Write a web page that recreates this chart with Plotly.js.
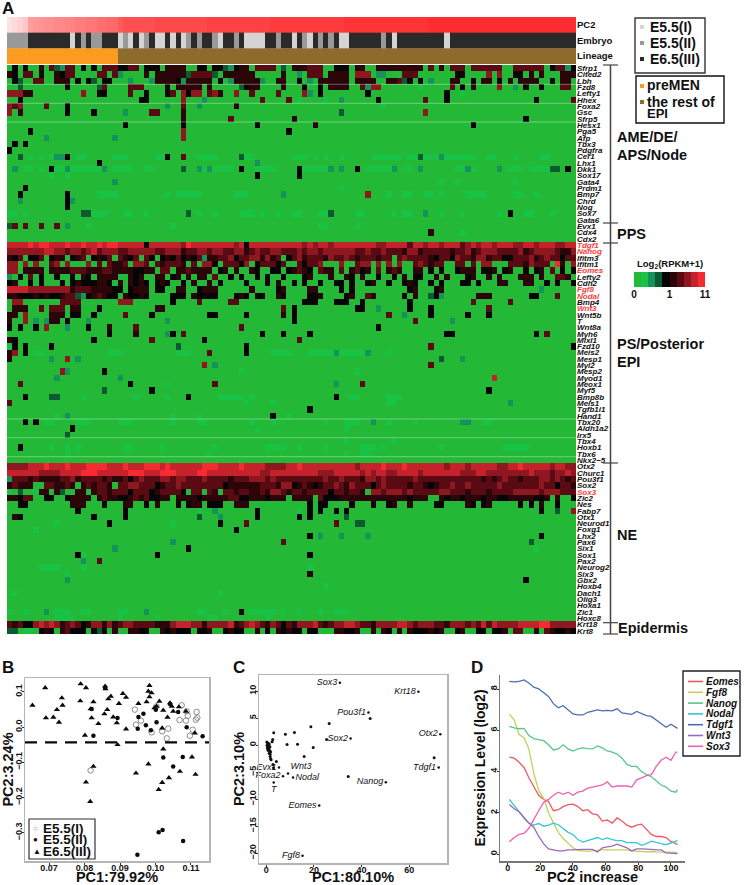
<!DOCTYPE html>
<html><head><meta charset="utf-8">
<script src="https://cdn.plot.ly/plotly-3.0.1.min.js"></script>
<style>html,body{margin:0;padding:0;background:#fff}#c{width:745px;height:885px}</style>
</head><body><div id="c"></div>
<script>
// ---------- Panel A data ----------
const geneNames = ["Sfrp1","Cited2","Lbh","Fzd8","Lefty1","Hhex","Foxa2","Gsc","Sfrp5","Hesx1","Pga5","Afp","Tbx3","Pdgfra","Cer1","Lhx1","Dkk1","Sox17","Gata4","Prdm1","Bmp7","Chrd","Nog","Sox7","Gata6","Evx1","Cdx4","Cdx2",
"Tdgf1","Nanog","Ifitm3","Ifitm1","Eomes","Lefty2","Cdh2","Fgf8","Nodal","Bmp4","Wnt3","Wnt5b","T","Wnt8a","Myh6","Mixl1","Fzd10","Meis2","Mesp1","Myl2","Mesp2","Myod1","Meox1","Myf5","Bmp8b","Meis1","Tgfb1i1","Hand1","Tbx20","Aldh1a2","Irx5","Tbx4","Hoxb1","Tbx6","Nkx2−5",
"Otx2","Churc1","Pou3f1","Sox2","Sox3","Zic2","Nes","Fabp7","Otx1","Neurod1","Foxg1","Lhx2","Pax6","Six1","Sox1","Pax2","Neurog2","Six3","Gbx2","Hoxb4","Dach1","Olig3","Hoxa1","Zic1","Hoxc8","Krt18","Krt8"];
const redGenes = ["Tdgf1","Nanog","Eomes","Fgf8","Nodal","Wnt3","Sox3"];
const columnCount = 108;
// expression level per cell: 0 background green ... 4 black ... 9 bright red
// a row is either 108 digits, or "col:level" / "from-to:level" tokens over the background
const heatRows = [
"1:4 3:4 6:5 8:6 9:3 10:2 11:6 12:6 14:4 16:4 18-20:6 21-22:4 23-24:6 26-28:4 30-33:5 36-37:4 39-40:4 41:3 42:2 43:4 44-45:5 47-50:6 52:3 54-56:5 57-59:6 62-64:4 66-67:5 70-72:5 73-78:5 80:6 82:5 84-86:6 88-90:6 91-93:6 96-101:6 103:4 104-105:6 106:2 107:4",
"0:5 1:4 3-4:6 6:4 9:5 10:4 11-12:6 17-18:6 20:6 21:2 26:5 28-33:5 34:3 35-38:6 39:3 41-42:5 43-46:5 52:5 55:2 57-59:6 61-64:5 66-68:7 70:2 71:2 75-77:6 85-86:4 91:7 93:7 96-97:4 99:5 101:5 105-107:5",
"1:4 2:3 5-6:6 9-11:5 13:4 15:4 16:3 18-19:4 23:2 27:2 28-31:5 32:4 33:2 34-38:5 40:4 42:2 43-47:5 48:2 51-52:5 55:4 57:2 59-64:5 66-69:5 72-73:5 74:6 75:3 76:4 78:4 80:2 84-85:5 88:4 90-91:5 93:4 95:5 97-100:5 103:4 105-106:5",
"2:3 11:4 17:3 18:6 23-25:6 30:4 32-36:5 38:5 44:3 45:4 46:5 47:5 52:5 56:4 59:4 61-64:5 67:6 68:2 69-70:7 78:1 84:6 86:4 88:5 93:7 96:2 98:4 101:4 105-106:6",
"0-2:7 3-4:5 14:7 17-18:4 23:6 26:4 30:4 31:6 33:7 34:4 35-36:7 38:6 39:7 40:5 43:7 46:6 51:6 56:7 57:2 59:4 68:4 83:4 86:1",
"2:4 25-26:4 33:7 37:2 48:6 53:6 55:1 60:1 63:2 70:4 79:6 83:4 100:4 107:6",
"0:7 1:6 2:7 7:6 11:4 30:2 33:6 36:2 43:5 71:1",
"0:7 2:5 11:4 16:4 22:2 27-28:6 33:5 63:3 79:7",
"33:5 42:6 54:5 98:4",
"22:4 33:4 47:4 58:5 88:4",
"4:4 33:7 53:4",
"7:2 20:2 33:7",
"1:4 3:4",
"0:4",
"2:3 4:1 6:1 8:1 9:2 10:2 11:4 13-14:1 20-22:1 28-29:1 30:4 33:6 36-39:1 44:3 45-46:1 54-56:1 58:1 60:1 63:1 69-74:1 76-77:1 78:3 79-81:1 82:2 83-88:1 91-92:1 96:1 101-102:1",
"17:4 47:2",
"1:2 3-4:1 6:1 8:4 9-10:1 11:2 12-17:1 18:2 20-22:1 23:1 26:1 27:1 33:3 36:2 37:1 38:2 39-42:1 44:4 47-50:1 55:4 56-60:1 61:2 63:2 66:4 68-72:1 73:2 75:1 76:1 78:2 85:1 86:1 87:2 88:1 93:2 95-97:1 99-102:1 103-104:3 106:4",
"8:1 11:1 47:4 55:4",
"20:2 82:1 85:1 96:1",
"3:4 63:1",
"2:4 11:4 17-19:1 20:1 30:1 32-36:1 43-45:1 52:2 68:7 72:1 75-76:1 79-80:1 82:1 87-89:1 90:1 96-97:1 100:1",
"2:2 11:4 12:2",
"11:4",
"0-1:1 3:1 14-15:3 16-18:1 22-23:1 26:1 34:3 36:1 39:1 44-46:1 48:1 51:1 54:1 55:1 59-60:1 61:3 66-67:1 73:1 75-76:1 79:2 82:1 86:1 93:1 95:4 98-99:1 103:1",
"",
"0:3 1:6 3:6 6:6 9:6 11:2 15:1 31:1 59-60:1 66:1",
"80:5 86:1",
"",
"888898998889889889899888884888888798888888878488888888887878878888888877888868878878886787887888778878887788787",
"777777788776776786777667777766777566776776677567667766676776777777667667666577566666566756777666675677776557576",
"546044604550456045460654606404546454625566746677575604675666576676566656606766665466476657756644666756766466676",
"770707006707000706065560776065666506077406664704666460064667000700677070707006765660066060770006665766609507666",
"770555505555666555665555445506605565555045050054004404565406550605645060565005504040045550445045004045060404050",
"204060400400405405555005450055045050550600404004040040004500050054050040040504400505000450050500055505006650060",
"450040400040454445540505454045400405005040000400040500404004004404004500400454004040004404000550005500404004044",
"888877777777566655554404555044005500455500000050000450000550000404000000000045000450000000000000000002000000000",
"554445454456632456544054454000044405444400045404400540000445000045006500000405003420000005550000000440006000060",
"1-2:7 10-13:6 21-23:7 31:4 36:6 42-43:6 56-58:4 62-64:4 67:4 76:4 88:6 95:6",
"1-3:5 6:6 8-10:6 12-13:5 17:4 28-29:5 52:6 54:4 66-67:4 70:2 76:4 80:4 91:6",
"0-1:5 3:7 8-10:5 12-13:4 16:4 22:6 27:4 38-39:4 45:4 52:5 54:4 72:6 75:2 80:4 87:4 91:4",
"0:5 3:7 5:2 7:2 8-9:5 11:4 15:2 30:2 54:4 77:6 84:2",
"0:4 2:4 5:4 7:7 11:2 15:4 19:5 24:6 44:6 70:4",
"19:4 24:5 30:2 31:4 33:6 48:4 52:4 57:4 83-84:4 100:4 102:6",
"0:5 1:4 16:4 27:6 37:4 55:6",
"0:1 1:4 3:4 8:4 32:3 45:4 80:6 107:4",
"0:5 1:7 3:4 5-6:1 19-21:1 32-34:1 38:6 45:4 50-53:1 57-61:1 62:2 63-67:1 68:2 72:1",
"0:5 8:2 11:7 13:2 82:3 86:2",
"37:7 39:2 80:6",
"10:7 11:2 18:4 44:1 66:1",
"9:2 21:2 92:8",
"2:6 23:4 30:1 39:6 62:2 67:6",
"18:3 27:4 91:4",
"3:4 8-9:3 14:1 24:1 30:1 34:4 40-44:1 46:1 62:4 65-66:1 72-74:1",
"0:6 45:1 50:1 72-73:1 95:2",
"57:4",
"9:1 11:2 31:1 36:1 50:4 53:1",
"3:4 5:4 7-8:1 13-15:1 21-23:1 31:1 36-37:1 46:1 50:1 60:1 64-66:1 69:2 72:1 77:1 86-87:2 90-91:1",
"12:4 47:1 64:1",
"11:3",
"64:1 73:1",
"2:4 8:1 11:1 13:1 22-23:1 29:1 39:1 49-52:1 55:1 60:1 67-69:1 71:1 82:1 94-98:1",
"11:1 38:1 64:1 67:1 68:1",
"",
"777788898889888999988898889998988888899988889888877778898888888888788889888988888887888788888778898888878877887",
"888888777788889998888889998889998888998888888888778888888887778888878788778888788888887778877777777877767787887",
"266656555566756666565564676667767766676666566677767666666666766766657767666667666666666666565676656667767656755",
"565550066556505656650667766645667666666664555555666577456545667657666467666656654566766766666766666667664665047",
"103001550530055056656664666456666406606506656655657765665666646656650776777676666677666566656666777776777666677",
"554660044004555505655445656445505555455555664455545550555506444555555555555545550054554555455445555544505004455",
"004400000000555000400055004050004045504440055500000000000404400004000400450050000440000540450000040405004000550",
"13:4 22:4 36:1 39:2 47:4 55:1 57:4 59:4 62:4 64:4 101:4 104:3 107:7",
"1:5 2:4 16:4 22:4 36:3 40:2 47:4 55:4 57:4 64:3",
"9:1 19:4 31:1 40:4 45:6 62:6 66-67:3",
"5:1 43:4",
"57:4 59:2 63:2 68:2 101:4",
"31:2 52:6 99:3",
"20:2 34:4 100:1",
"13:4 14:1 28:4 57:4",
"14:2 17:6",
"6-9:1 14:1 57:1",
"11:1 57:5",
"11:2 98:4",
"60:1",
"1:1 40:1",
"",
"",
"0:1 3:1 7:2 9-11:1 14-15:1 21-22:1 26:2 36-37:1 41:1 44:4 46-50:1 52:1 55:1 59:1 62-64:1",
"9-12:1 21:1 28:1 38-39:1 49:1",
"656447878756764577575677666655578887757777856787657646577786567788766577778876777665777676868777788889977777788",
"330110454056444043405005544005454440445004544005040545440440005544500505405054445450045004404450660050654454500"
];
const levelColors = ["#24b837","#17c244","#15935a","#0b5a30","#050505","#2c0508","#5a0a12","#8f171f","#c5222b","#f62b32"];
const colorbarLevels = [0,1,2,3,4,5,6,7,8,9];
const colorbarTickLabels = ["0","1","11"];
// top bars, as [value, number of columns]
const barLabels = ["Lineage","Embryo","PC2"];
const pc2Runs = [[0.04,1],[0.07,1],[0.1,1],[0.14,1],[0.3,1],[0.33,1],[0.36,1],[0.38,2],[0.42,2],[0.45,2],[0.5,2],[0.54,2],[0.58,2],[0.62,2],[0.72,1],[0.78,6],[0.82,10],[0.86,12],[0.9,14],[0.94,16],[0.98,28]];
const embryoRuns = [[1,4],[2,8],[0,1],[2,1],[1,1],[2,1],[1,2],[2,3],[0,1],[1,1],[0,1],[2,1],[0,1],[1,1],[2,1],[0,2],[2,1],[0,1],[2,1],[0,1],[1,1],[2,1],[1,1],[2,2],[1,1],[0,1],[2,2],[1,1],[2,1],[0,4],[2,2],[1,1],[2,2],[0,1],[2,1],[1,1],[0,1],[2,1],[1,1],[2,1],[1,1],[2,1],[0,2],[2,6],[1,1],[2,1],[0,1],[2,9],[0,1],[2,24]];
const lineageRuns = [[0,21],[1,87]];
const embryoColors = ["#d4d4d4","#999999","#2a2a2a"];
const lineageColors = ["#fb9b1f","#8f6a2d"];
// ---------- Panel B data ----------
const stageNames = ["E5.5(I)","E5.5(II)","E6.5(III)"];
const e65X = [0.0653,0.0689,0.0789,0.0804,0.0691,0.0712,0.0722,0.0736,0.0738,0.0728,0.0788,0.0825,0.0817,0.082,0.0801,0.0839,0.0804,0.0816,0.0825,0.0858,0.0859,0.0856,0.0864,0.0867,0.0874,0.0881,0.0891,0.0897,0.0908,0.0917,0.0917,0.0893,0.0952,0.0975,0.0983,0.098,0.0989,0.0983,0.0997,0.1003,0.1011,0.1022,0.1041,0.1046,0.105,0.1066,0.1034,0.1019,0.1022,0.098,0.0945,0.1009,0.1019,0.1038,0.1069,0.1103,0.1113,0.1111,0.1086];
const e65Y = [0.0616,0.111,0.1223,0.111,0.0256,0.0275,0.0493,0.0825,0.0616,0.0133,0.0739,0.0711,0.0512,0.0256,-0.0237,0.0095,-0.1564,-0.2114,-0.1119,0.1157,0.1081,0.037,0.0493,0.0796,0.0872,0.0284,0.0114,0.0664,0.0948,0.0844,-0.0057,-0.0502,0.0664,0.0711,0.1176,0.1014,0.0967,0.0853,0.054,0.0588,0.073,0.0474,0.0683,0.0588,0.0446,0.0569,0.0275,-0.0028,-0.0626,-0.1052,-0.1308,-0.1773,-0.1574,-0.1441,-0.1261,-0.0853,-0.1346,-0.0171,0.0446];
const e55iiX = [0.082,0.0825,0.0858,0.0893,0.0952,0.0966,0.0973,0.095,0.0987,0.1003,0.1022,0.105,0.1077,0.1009,0.102,0.1078,0.0949,0.1064,0.1088,0.1133,0.1041,0.1001];
const e55iiY = [0.0512,-0.0246,0.1109,0.0256,0.0284,0.0379,0.0047,-0.0047,-0.0095,0.0133,-0.0863,-0.1119,-0.0853,-0.2986,-0.292,-0.3233,-0.3621,0.0427,-0.0009,-0.0265,0.0654,0.0493];
const e55iX = [0.0817,0.0942,0.0945,0.0959,0.0989,0.1003,0.1019,0.1036,0.1032,0.1074,0.1068,0.1086,0.1091,0.1116,0.1118,0.1114,0.1105,0.1097,0.1088];
const e55iY = [-0.1232,0.0493,0.0066,0.018,-0.0152,0.0588,-0.0123,-0.0047,-0.0322,0.0616,0.0199,0.018,0.0322,0.0427,0.0265,0.0209,-0.0076,-0.0246,0.0446];
const cutoffY = -0.0436;
// ---------- Panel C data ----------
const labelledGenes = ["Sox3","Krt18","Pou3f1","Otx2","Sox2","Tdgf1","Nanog","Eomes","Fgf8","Nodal","Wnt3","Evx1","Foxa2","T"];
const labelledX = [30.9,63.9,42.9,73.1,35.4,72.4,50.2,22.2,15.2,11.2,9.1,5.3,7,3.1];
const labelledY = [11.56,9.9,6.06,2.04,1.24,-4.14,-6.86,-11.2,-20.5,-6,-5.26,-4.14,-5.75,-6.93];
const labelledSide = ["middle left","middle left","middle left","middle left","middle left","middle left","middle left","middle left","middle left","middle right","top right","middle left","middle left","bottom center"];
const otherX = [43.6,26.4,18.7,11.8,8,3.1,8.7,13.1,19.7,15.9,25.3,34.4,70.5,4.2,2.7,2.4,0.2,0.5,0.8,1.2,0.3,0.6,1,1.5,0.4,0.8,1.2,0.6,1,1.4,1.8,1.2,1.6,1.6,1.8,2,2.8,3];
const otherY = [4.95,4.02,3.4,2.35,2.04,2.29,0.12,0.19,-0.43,-2.1,1.05,-5.81,-2.35,-3.03,1.05,0.62,0.6,0.4,0.3,0.2,0,-0.1,-0.2,-0.3,-0.5,-0.6,-0.7,-0.9,-1,-1.1,-1.2,-1.5,-1.7,-2.1,-2.5,-2.7,-3.6,-4.2];
// ---------- Panel D data ----------
const pc2Index = [1,4,7,10,13,16,19,22,25,28,31,34,37,40,43,46,49,52,55,58,61,64,67,70,73,76,79,82,85,88,91,94,97,100,103,104];
const eomes = [4.7,4.65,4.45,4.2,3.7,3.3,2.85,2.65,2.55,2.1,2.15,2.3,2.4,2.42,2.3,2.1,2.15,1.95,1.9,1.6,1.65,1.5,1.75,1.6,1.4,1.3,1.4,1.45,1.2,0.95,0.85,0.85,0.8,0.6,0.5,0.45];
const fgf8 = [6.8,6.5,5.8,5.65,5.1,3.9,3.1,2.7,2,1.5,1.05,0.75,0.5,0.3,0.18,0.15,0.13,0.15,0.18,0.2,0.2,0.2,0.2,0.22,0.2,0.15,0.15,0.12,0.1,0.12,0.1,0.1,0.08,0.08,0.08,0.08];
const nanog = [6.2,6.12,6.08,6.1,5.75,5.6,5.55,5.5,5.3,5.05,5.1,5.3,5.1,5,5.1,5.15,5.12,5.1,5.25,5.15,5,4.95,4.85,4.65,4.35,4.25,4.25,4,3.85,3.75,3.55,3.35,3.25,3.05,3,3.12];
const nodal = [2.65,2.35,2,1.75,1.5,1.4,1.48,1.35,1.4,1.5,1.42,1.25,1.05,0.95,0.7,0.58,0.65,0.75,0.8,0.7,0.78,0.7,0.65,0.65,0.55,0.55,0.55,0.42,0.5,0.62,0.55,0.5,0.45,0.55,0.62,0.65];
const tdgf1 = [8.38,8.36,8.38,8.45,8.3,8.1,8.02,7.85,7.65,7.3,7.1,7.2,7,6.8,6.75,6.75,6.88,6.95,7,6.95,6.97,6.95,7.05,6.85,6.8,6.78,6.92,6.8,6.72,6.68,6.5,6.35,6.15,6.3,6.15,6.1];
const wnt3 = [2.4,2.2,2.05,1.75,1.5,1.3,0.85,0.5,0.25,0.2,0.15,0.15,0.2,0.2,0.22,0.22,0.22,0.22,0.1,0.3,0.35,0.38,0.48,0.4,0.3,0.15,0.25,0.25,0.25,0.22,0.2,0.2,0.05,0.03,0.02,0.02];
const sox3 = [0.6,0.8,0.95,1,1.25,1.7,2.1,2.5,2.65,2.85,3,2.9,3,2.85,3,3.05,3.2,3.25,3.3,3.35,3.5,3.25,3.3,3.3,3.3,3.25,3.6,3.7,3.8,3.85,4.25,4.55,4.7,4.55,4.95,4.95];
const lineNames = ["Eomes","Fgf8","Nanog","Nodal","Tdgf1","Wnt3","Sox3"];
const lineSeries = [eomes,fgf8,nanog,nodal,tdgf1,wnt3,sox3];
const lineColors = ["#ef5a60","#bcd45a","#55c88a","#35c8d0","#4a6fb0","#a068b8","#f060b0"];

// ---------- helpers ----------
const W=745,H=885,FONT="Liberation Sans, Arial, sans-serif";
const xd=(a,b)=>[a/W,b/W], yd=(t,b)=>[1-b/H,1-t/H], PX=x=>x/W, PY=y=>1-y/H;
function decodeRow(s){
  const r=new Array(columnCount).fill(0);
  if(s===""||s.includes(":")){
    s.split(" ").filter(Boolean).forEach(tok=>{const [rng,l]=tok.split(":");const [a,b]=rng.split("-").map(Number);
      for(let i=a;i<=(b===undefined?a:b);i++) r[i]=+l;});
  } else { for(let i=0;i<columnCount&&i<s.length;i++) r[i]=+s[i]; }
  return r;
}
const unrun=runs=>runs.flatMap(([v,n])=>new Array(n).fill(v));
function stepScale(cs){const n=cs.length,o=[];cs.forEach((c,i)=>{o.push([i/n,c]);o.push([(i+1)/n,c]);});return o;}
const cols=[...Array(columnCount).keys()];
const rowIdx=geneNames.map((_,i)=>i);
const boldFont=(s,c)=>({family:FONT,size:s,color:c||"#111",weight:"bold"});

const traces=[
 {type:"heatmap",xaxis:"x",yaxis:"y",x:cols,y:rowIdx,z:heatRows.map(s=>decodeRow(s)),zmin:-0.5,zmax:9.5,colorscale:stepScale(levelColors),showscale:false,hoverinfo:"skip",zsmooth:false},
 {type:"heatmap",xaxis:"x2",yaxis:"y2",x:cols,y:[2],z:[unrun(pc2Runs)],zmin:0,zmax:1,colorscale:[[0,"#ffecec"],[0.3,"#ff9c9c"],[0.7,"#ff5c5c"],[1,"#ff2a2e"]],showscale:false,hoverinfo:"skip"},
 {type:"heatmap",xaxis:"x2",yaxis:"y2",x:cols,y:[1],z:[unrun(embryoRuns)],zmin:-0.5,zmax:2.5,colorscale:stepScale(embryoColors),showscale:false,hoverinfo:"skip"},
 {type:"heatmap",xaxis:"x2",yaxis:"y2",x:cols,y:[0],z:[unrun(lineageRuns)],zmin:-0.5,zmax:1.5,colorscale:stepScale(lineageColors),showscale:false,hoverinfo:"skip"},
 {type:"heatmap",xaxis:"x3",yaxis:"y3",x:colorbarLevels,y:[0],z:[colorbarLevels],zmin:-0.5,zmax:9.5,colorscale:stepScale(levelColors),showscale:false,hoverinfo:"skip"},
 {type:"scatter",mode:"markers",xaxis:"x4",yaxis:"y4",x:e55iX,y:e55iY,name:stageNames[0],marker:{symbol:"circle-open",size:5.5,color:"#8a8a8a",line:{width:1,color:"#8a8a8a"}}},
 {type:"scatter",mode:"markers",xaxis:"x4",yaxis:"y4",x:e55iiX,y:e55iiY,name:stageNames[1],marker:{symbol:"circle",size:4.5,color:"#0a0a0a"}},
 {type:"scatter",mode:"markers",xaxis:"x4",yaxis:"y4",x:e65X,y:e65Y,name:stageNames[2],marker:{symbol:"triangle-up",size:5.5,color:"#0a0a0a"}},
 {type:"scatter",mode:"lines",xaxis:"x4",yaxis:"y4",x:[0.0632,0.1151],y:[cutoffY,cutoffY],line:{color:"#0a0a0a",width:2.2,dash:"12px,8px"},hoverinfo:"skip"},
 {type:"scatter",mode:"markers",xaxis:"x5",yaxis:"y5",x:otherX,y:otherY,marker:{size:3,color:"#111"}},
 {type:"scatter",mode:"markers+text",xaxis:"x5",yaxis:"y5",x:labelledX,y:labelledY,text:labelledGenes,textposition:labelledSide,cliponaxis:false,
  textfont:{family:FONT,size:9,style:"italic",color:"#111"},marker:{size:2.5,color:"#111"}}
];
lineNames.forEach((n,i)=>traces.push({type:"scatter",mode:"lines",xaxis:"x6",yaxis:"y6",x:pc2Index,y:lineSeries[i],name:n,line:{color:lineColors[i],width:1.3}}));

const shapes=[],annotations=[];
const ln=(x0,y0,x1,y1,c,w)=>shapes.push({type:"line",xref:"paper",yref:"paper",x0:PX(x0),y0:PY(y0),x1:PX(x1),y1:PY(y1),line:{color:c||"#444",width:w||1.5}});
const box=(x0,y0,x1,y1,lc,w,fill)=>shapes.push({type:"rect",xref:"paper",yref:"paper",x0:PX(x0),y0:PY(y0),x1:PX(x1),y1:PY(y1),line:{color:lc,width:w},fillcolor:fill||"rgba(0,0,0,0)"});
const txt=(x,y,t,size,opt)=>annotations.push(Object.assign({xref:"paper",yref:"paper",x:PX(x),y:PY(y),text:t,showarrow:false,xanchor:"left",yanchor:"middle",font:boldFont(size),borderpad:0},opt||{}));

[84.3,103.3,122,419,437.7,456.7].forEach(y=>ln(7,y,576,y,"rgba(255,255,255,0.35)",1));
ln(610.5,65,610.5,634,"#444",1.5);
[65,223,243,463,622.7,634].forEach(y=>ln(603,y,618,y,"#444",1.2));
txt(1,8,"A",17);txt(1,667,"B",17);txt(232,667,"C",17);txt(470,667,"D",17);
[[616,137,"AME/DE/"],[616,155,"APS/Node"],[616,234,"PPS"],[616,344,"PS/Posterior"],[616,362,"EPI"],[616,535,"NE"],[617,628,"Epidermis"]].forEach(a=>txt(a[0],a[1],a[2],14.5));
txt(670,264,"Log<sub>2</sub>(RPKM+1)",9.5,{xanchor:"center"});
box(635,18,705,73,"#333",1.4);
stageNames.forEach((n,i)=>{const y=27+i*16;
  const c=embryoColors[i];
  box(640,y-2,644,y+2,c,0,c);
  txt(649,y,n,14);});
box(636,76,724,123,"#111",1.4);
box(640,84,644,88,lineageColors[0],0,lineageColors[0]);
box(640,100,644,104,lineageColors[1],0,lineageColors[1]);
txt(646,85,"preMEN",14);txt(646,102,"the rest of",14);txt(646,114,"EPI",13);
box(29,819,95,859,"#333",1.2,"#fff");
[["○","#777"],["●","#111"],["▲","#111"]].forEach((g,i)=>{const y=828+i*11.5;
  txt(32,y,g[0],8,{font:boldFont(8,g[1])});
  txt(42,y,stageNames[i],13.5);});
box(683,671,740,756,"#222",1.4,"#fff");
lineNames.forEach((n,i)=>{const y=681.5+i*10.8;
  ln(688,y,703,y,lineColors[i],1.6);
  txt(705,y,n,10,{font:{family:FONT,size:10,style:"italic",weight:"bold",color:"#111"}});});

const tickStyle={ticks:"outside",ticklen:2,tickcolor:"#333",ticklabelstandoff:-4,showgrid:false,zeroline:false,tickfont:boldFont(9)};
const frame=Object.assign({showline:true,mirror:true,linecolor:"#b5b5b5",linewidth:1.5},tickStyle);
const open=Object.assign({showline:true,linecolor:"#777",linewidth:1.5},tickStyle);
const hidden={visible:false,showgrid:false,zeroline:false};
const layout={width:W,height:H,margin:{l:0,r:0,t:0,b:0},paper_bgcolor:"#fff",plot_bgcolor:"#fff",showlegend:false,font:{family:FONT},shapes,annotations,
 xaxis:Object.assign({},hidden,{domain:xd(7,576),range:[-0.5,107.5],anchor:"y"}),
 yaxis:{domain:yd(65,634),range:[89.5,-0.5],side:"right",anchor:"x",tickmode:"array",tickvals:rowIdx,
  ticktext:geneNames.map(g=>redGenes.includes(g)?`<span style="color:#ff3a3a">${g}</span>`:g),
  ticks:"",showgrid:false,zeroline:false,showline:false,
  tickfont:{family:FONT,size:8,style:"italic",weight:"bold",color:"#111"}},
 xaxis2:Object.assign({},hidden,{domain:xd(7,576),range:[-0.5,107.5],anchor:"y2"}),
 yaxis2:{domain:yd(17,64),range:[-0.5,2.5],side:"right",anchor:"x2",tickmode:"array",tickvals:[0,1,2],ticktext:barLabels,ticks:"",showgrid:false,zeroline:false,showline:false,tickfont:boldFont(9.5)},
 xaxis3:{domain:xd(634,705),range:[-0.5,9.5],anchor:"y3",tickmode:"array",tickvals:[-0.5,4.5,9.5],ticktext:colorbarTickLabels,ticks:"",showgrid:false,zeroline:false,showline:false,tickfont:boldFont(10)},
 yaxis3:Object.assign({},hidden,{domain:yd(272,287),range:[-0.5,0.5],anchor:"x3"}),
 xaxis4:Object.assign({},frame,{domain:xd(25,209),range:[0.0632,0.1151],anchor:"y4",tickmode:"array",tickvals:[0.07,0.08,0.09,0.10,0.11],ticktext:["0.07","0.08","0.09","0.10","0.11"],
  title:{text:"PC1:79.92%",font:boldFont(14.5),standoff:11}}),
 yaxis4:Object.assign({},frame,{domain:yd(678,861),range:[-0.380,0.139],anchor:"x4",tickmode:"array",tickvals:[-0.3,-0.2,-0.1,0,0.1],ticktext:["−0.3","−0.2","−0.1","0.0","0.1"],tickangle:-90,
  title:{text:"PC2:3.24%",font:boldFont(14.5),standoff:5}}),
 xaxis5:Object.assign({},frame,{domain:xd(259,447),range:[-3.09,75.9],anchor:"y5",tickmode:"array",tickvals:[0,20,40,60],
  title:{text:"PC1:80.10%",font:boldFont(14.5),standoff:11}}),
 yaxis5:Object.assign({},frame,{domain:yd(675,863),range:[-21.83,13],anchor:"x5",tickmode:"array",tickvals:[-20,-15,-10,-5,0,5,10],tickangle:-90,
  title:{text:"PC2:3.10%",font:boldFont(14.5),standoff:0}}),
 xaxis6:Object.assign({},open,{domain:xd(500,685),range:[-4.7,108.6],anchor:"y6",tickmode:"array",tickvals:[0,20,40,60,80,100],
  title:{text:"PC2 increase",font:boldFont(14.5),standoff:11}}),
 yaxis6:Object.assign({},open,{domain:yd(675,861),range:[-0.34,8.69],anchor:"x6",tickmode:"array",tickvals:[0,2,4,6,8],tickangle:-90,
  title:{text:"Expression Level (log2)",font:boldFont(14),standoff:0}})
};
Plotly.newPlot("c",traces,layout,{displayModeBar:false,staticPlot:true});
</script></body></html>
